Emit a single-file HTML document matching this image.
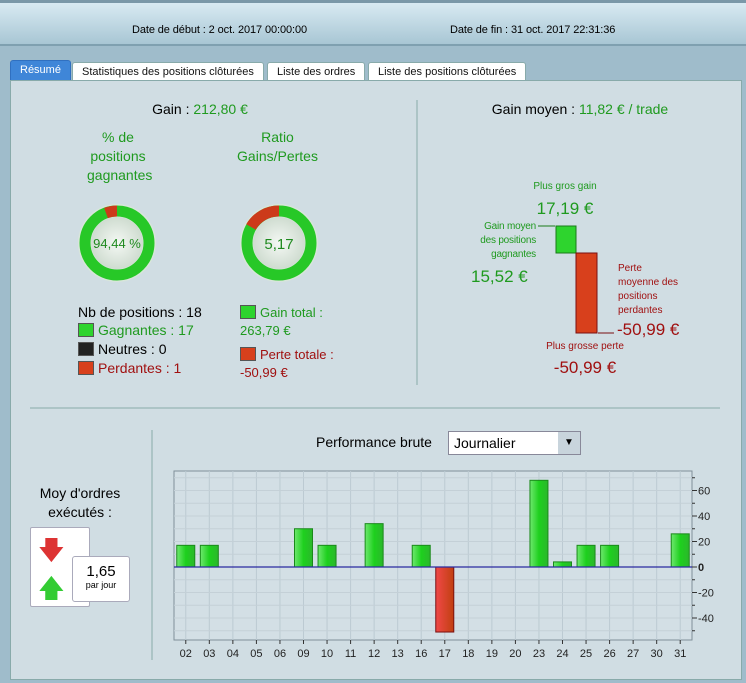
<!DOCTYPE html>
<html><head><meta charset="utf-8">
<style>
*{margin:0;padding:0;box-sizing:border-box}
body{width:746px;height:683px;overflow:hidden;font-family:"Liberation Sans",sans-serif;background:#9fbccb;position:relative}
.a{position:absolute}
.g{color:#1f9a1f}.r{color:#a01010}
.tab{position:absolute;top:62px;height:19px;font-size:11px;border:1px solid #8aa;border-bottom:none;background:#fff;padding:3px 9px;border-radius:3px 3px 0 0;color:#111}
.c{text-align:center}
.sq{display:inline-block;width:16px;height:14px;vertical-align:-2px;margin-right:4px;border:1px solid #555}
</style></head><body>
<div class="a" style="left:0;top:0;width:746px;height:46px;background:linear-gradient(#d8eaf2,#a8c6d4);border-top:3px solid #7a98a8;border-bottom:2px solid #7fa0b0"></div>
<div class="a" style="left:132px;top:24px;font-size:11px;letter-spacing:-0.1px">Date de début : 2 oct. 2017 00:00:00</div>
<div class="a" style="left:450px;top:24px;font-size:11px;letter-spacing:-0.1px">Date de fin : 31 oct. 2017 22:31:36</div>
<div class="tab" style="left:10px;background:#3f86d8;color:#fff;border-color:#3070c0;top:60px;height:21px">Résumé</div>
<div class="tab" style="left:72px">Statistiques des positions clôturées</div>
<div class="tab" style="left:267px">Liste des ordres</div>
<div class="tab" style="left:368px">Liste des positions clôturées</div>
<div class="a" style="left:10px;top:80px;width:732px;height:600px;background:#d0dde3;border:1px solid #8aa"></div>

<div class="a c" style="left:60px;top:101px;width:280px;font-size:14px">Gain : <span class="g">212,80 €</span></div>
<div class="a c g" style="left:87px;top:128px;width:62px;font-size:14px;line-height:19px">% de positions gagnantes</div>
<div class="a c g" style="left:230px;top:128px;width:95px;font-size:14px;line-height:19px">Ratio Gains/Pertes</div>
<svg class="a" style="left:0;top:0" width="746" height="683">
 <defs><radialGradient id="ig"><stop offset="0" stop-color="#f4f8f4"/><stop offset="1" stop-color="#cfdcd0"/></radialGradient></defs>
 <g>
  <circle cx="117" cy="243" r="39" fill="#d8e6da"/>
  <circle cx="117" cy="243" r="32" fill="none" stroke="#27c827" stroke-width="11"/>
  <path d="M117 211 A32 32 0 0 0 106 213" fill="none" stroke="#cc3a1a" stroke-width="11"/>
  <circle cx="117" cy="243" r="26" fill="url(#ig)"/>
  <text x="117" y="248" text-anchor="middle" font-size="13" fill="#1f8a1f" font-family="Liberation Sans">94,44 %</text>
 </g>
 <g>
  <circle cx="279" cy="243" r="39" fill="#d8e6da"/>
  <circle cx="279" cy="243" r="32" fill="none" stroke="#27c827" stroke-width="11"/>
  <path d="M279 211 A32 32 0 0 0 251 227" fill="none" stroke="#cc3a1a" stroke-width="11"/>
  <circle cx="279" cy="243" r="26" fill="url(#ig)"/>
  <text x="279" y="249" text-anchor="middle" font-size="15" fill="#1f8a1f" font-family="Liberation Sans">5,17</text>
 </g>
 <line x1="417" y1="100" x2="417" y2="385" stroke="#8aa" />
 <line x1="30" y1="408" x2="720" y2="408" stroke="#8aa"/>
 <line x1="152" y1="430" x2="152" y2="660" stroke="#8aa"/>
 <rect x="556" y="226" width="20" height="27" fill="#2ed42e" stroke="#1a7a1a"/>
 <rect x="576" y="253" width="21" height="80" fill="#d8401c" stroke="#7a1010"/>
 <line x1="538" y1="226" x2="555" y2="226" stroke="#1a7a1a"/>
 <line x1="598" y1="333" x2="614" y2="333" stroke="#7a1010"/>
</svg>
<div class="a" style="left:78px;top:304px;font-size:14px">Nb de positions : 18</div>
<div class="a g" style="left:78px;top:322px;font-size:14px"><span class="sq" style="background:#2ed42e"></span>Gagnantes : 17</div>
<div class="a" style="left:78px;top:341px;font-size:14px"><span class="sq" style="background:#222"></span>Neutres : 0</div>
<div class="a r" style="left:78px;top:360px;font-size:14px"><span class="sq" style="background:#d8401c"></span>Perdantes : 1</div>
<div class="a g" style="left:240px;top:304px;font-size:13px;line-height:18px"><span class="sq" style="background:#2ed42e"></span>Gain total :<br>263,79 €</div>
<div class="a r" style="left:240px;top:346px;font-size:13px;line-height:18px"><span class="sq" style="background:#d8401c"></span>Perte totale :<br>-50,99 €</div>

<div class="a c" style="left:440px;top:101px;width:280px;font-size:14px">Gain moyen : <span class="g">11,82 € / trade</span></div>
<div class="a g c" style="left:510px;top:181px;width:110px;font-size:10px">Plus gros gain</div>
<div class="a g c" style="left:510px;top:199px;width:110px;font-size:17px">17,19 €</div>
<div class="a g" style="left:456px;top:220px;width:80px;font-size:10px;line-height:14px;text-align:right;letter-spacing:-0.2px">Gain moyen<br>des positions<br>gagnantes</div>
<div class="a g" style="left:471px;top:267px;font-size:17px">15,52 €</div>
<div class="a r" style="left:618px;top:262px;font-size:10px;line-height:14px">Perte<br>moyenne des<br>positions<br>perdantes</div>
<div class="a r" style="left:617px;top:320px;font-size:17px">-50,99 €</div>
<div class="a r c" style="left:530px;top:341px;width:110px;font-size:10px">Plus grosse perte</div>
<div class="a r c" style="left:530px;top:358px;width:110px;font-size:17px">-50,99 €</div>

<div class="a c" style="left:25px;top:484px;width:110px;font-size:14px;line-height:19px">Moy d'ordres exécutés :</div>
<div class="a" style="left:30px;top:527px;width:60px;height:80px;background:#fff;border:1px solid #aab;border-radius:2px"></div>
<div class="a" style="left:38px;top:532px;color:#d33;font-size:26px">🡇</div>
<div class="a" style="left:38px;top:570px;color:#3c3;font-size:26px">🡅</div>
<div class="a c" style="left:72px;top:556px;width:58px;height:46px;background:#fff;border:1px solid #aab;border-radius:3px;padding-top:6px"><div style="font-size:15px">1,65</div><div style="font-size:9px">par jour</div></div>

<div class="a" style="left:316px;top:434px;font-size:14px">Performance brute</div>
<div class="a" style="left:448px;top:431px;width:133px;height:24px;background:#fff;border:1px solid #889;font-size:14px;padding:3px 5px">Journalier<span style="position:absolute;right:0;top:0;width:22px;height:22px;background:#c8d4dc;text-align:center;font-size:10px;line-height:22px">▼</span></div>

<svg id="chart" class="a" style="left:0;top:0" width="746" height="683"></svg>
<script>
const categories=["02","03","04","05","06","09","10","11","12","13","16","17","18","19","20","23","24","25","26","27","30","31"];
const values=[17,17,0,0,0,30,17,0,34,0,17,-51,0,0,0,68,4,17,17,0,0,26];
const ticks=[60,40,20,0,-20,-40];
const L=174,R=692,T=471,B=640,Z=567,PPU=1.275;
const svg=document.getElementById('chart');const NS='http://www.w3.org/2000/svg';
function y(v){return Z-v*PPU}
const step=(R-L)/categories.length;
function x(i){return L+step*(i+0.5)}
function mk(t,a){const e=document.createElementNS(NS,t);for(const k in a)e.setAttribute(k,a[k]);svg.appendChild(e);return e}
const defs=mk('defs',{});
defs.innerHTML='<linearGradient id="gg"><stop offset="0" stop-color="#6ee86e"/><stop offset="0.5" stop-color="#1ed01e"/><stop offset="1" stop-color="#2bb82b"/></linearGradient><linearGradient id="rg"><stop offset="0" stop-color="#f04848"/><stop offset="1" stop-color="#c04010"/></linearGradient>';
const bg=mk('rect',{x:L,y:T,width:R-L,height:B-T,fill:'#d3dfe5',stroke:'#7f8f99'});

for(let i=0;i<categories.length;i++){const g=mk('line',{x1:x(i),x2:x(i),y1:T,y2:B,stroke:'#bccad2'});
}
for(let v=-60;v<=80;v+=10){const yy=y(v);if(yy<T||yy>B)continue;mk('line',{x1:L,x2:R,y1:yy,y2:yy,stroke:'#c4d0d7'});mk('line',{x1:R,x2:R+(v%20==0?5:3),y1:yy,y2:yy,stroke:'#333'});}
ticks.forEach(v=>{const t=mk('text',{x:R+6,y:y(v)+4,'font-size':11,'font-family':'Liberation Sans','font-weight':v==0?'bold':'normal',fill:'#222'});t.textContent=v;
});
values.forEach((v,i)=>{if(v===0)return;const bw=18;const b=mk('rect',{x:x(i)-bw/2,y:v>0?y(v):Z,width:bw,height:Math.abs(v)*PPU,fill:v>0?'url(#gg)':'url(#rg)',stroke:v>0?'#1a8a1a':'#7a1010'});
});
const zl=mk('line',{x1:L,x2:R,y1:Z,y2:Z,stroke:'#2a2aa0','stroke-width':1.3});

categories.forEach((c,i)=>{mk('line',{x1:x(i),x2:x(i),y1:B,y2:B+4,stroke:'#333'});const t=mk('text',{x:x(i),y:B+17,'text-anchor':'middle','font-size':11,'font-family':'Liberation Sans',fill:'#222'});t.textContent=c;
});
</script>
</body></html>
